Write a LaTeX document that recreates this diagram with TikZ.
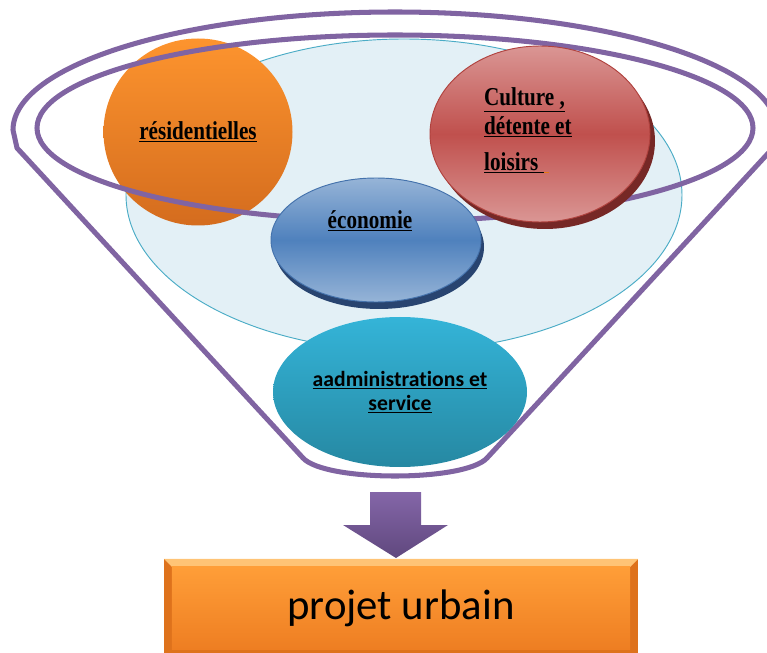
\documentclass[tikz,border=0pt]{standalone}
\usepackage{fontspec}
\setmainfont[Ligatures=NoCommon]{Carlito}
\newfontfamily\labelfont[FakeStretch=0.82]{Liberation Serif}
\usepackage{tikz}
\usetikzlibrary{shapes.geometric}
\usetikzlibrary{calc}
\definecolor{funnel}{RGB}{128,100,162}
\definecolor{lightbg}{RGB}{227,240,246}
\definecolor{lightedge}{RGB}{75,172,198}
\definecolor{orangetop}{RGB}{253,148,46}
\definecolor{orangebot}{RGB}{212,108,30}
\definecolor{redlight}{RGB}{218,150,148}
\definecolor{redmid}{RGB}{192,80,77}
\definecolor{rededge}{RGB}{176,66,62}
\definecolor{redshadow}{RGB}{118,40,38}
\definecolor{bluelight}{RGB}{150,180,215}
\definecolor{bluemid}{RGB}{79,129,189}
\definecolor{blueedge}{RGB}{68,114,172}
\definecolor{blueshadow}{RGB}{40,68,112}
\definecolor{tealtop}{RGB}{52,180,216}
\definecolor{tealbot}{RGB}{38,136,162}
\definecolor{arrowtop}{RGB}{132,102,168}
\definecolor{arrowbot}{RGB}{96,72,126}
\definecolor{boxedge}{RGB}{222,114,28}
\definecolor{boxlight}{RGB}{255,196,118}
\definecolor{boxtop}{RGB}{255,158,56}
\definecolor{boxbot}{RGB}{238,126,34}
\definecolor{ulorange}{RGB}{230,120,20}
\tikzset{
  funnelline/.style={draw=funnel,line width=4.3pt,line join=round},
  bubble/.style={ellipse,inner sep=0pt},
  labeltext/.style={font=\labelfont\bfseries\fontsize{22}{25}\selectfont},
}

\begin{document}
\begin{tikzpicture}[x=0.3mm,y=-0.3mm]
\useasboundingbox (0,0) rectangle (767,653);
\clip (0,0) rectangle (767,653);
%background ellipse
\node (fond) at (404,195) [bubble,fill=lightbg,draw=lightedge,line width=0.8pt,minimum width=556*0.3mm,minimum height=312*0.3mm] {};
%residential bubble
\node (res) at (198,132) [bubble,top color=orangetop,bottom color=orangebot,minimum width=189*0.3mm,minimum height=187*0.3mm,labeltext] {\underline{résidentielles}};

%funnel and inner ring
\draw [funnelline] (395,128) ellipse [x radius=358,y radius=93];
\draw [funnelline] (303,458) -- (17,148) -- (13,130) arc [start angle=180,end angle=360,x radius=382,y radius=118] -- (773,148) -- (487,458) .. controls (465,482) and (325,482) .. (303,458) -- cycle;

%culture bubble
\fill [redshadow] (545,141) ellipse [x radius=110,y radius=88];
\node (cult) at (540,134) [bubble,draw=rededge,line width=0.8pt,top color=redlight,bottom color=redlight,middle color=redmid,minimum width=220*0.3mm,minimum height=176*0.3mm] {};
\node (culttxt) at (484,87) [anchor=north west,align=left,inner sep=0pt,labeltext] {\underline{Culture ,}\\ \underline{détente et}\\[6pt] \underline{loisirs\ }\textcolor{ulorange}{\underline{\hspace{5pt}}}};

%economy bubble
\fill [blueshadow] (379,247) ellipse [x radius=105,y radius=62];
\node (eco) at (376,240) [bubble,draw=blueedge,line width=0.8pt,top color=bluelight,bottom color=bluelight,middle color=bluemid,minimum width=210*0.3mm,minimum height=124*0.3mm] {};
\node (ecotxt) at (370,221) [labeltext] {\underline{économie}};

%administration bubble
\node (admin) at (400,392) [bubble,top color=tealtop,bottom color=tealbot,minimum width=254*0.3mm,minimum height=150*0.3mm,align=center,font=\bfseries\fontsize{18.5}{21}\selectfont] {\underline{aadministrations et}\\\underline{service}};

%arrow down
\shade [top color=arrowtop,bottom color=arrowbot] (370,492) -- (421,492) -- (421,525) -- (448,525) -- (396,558) -- (343,525) -- (370,525) -- cycle;

%result box
\node (projet) at (401,608) [rectangle,fill=boxedge,minimum width=474*0.3mm,minimum height=98*0.3mm,inner sep=0pt] {};
\fill [boxlight] (projet.north west) -- (projet.north east) -- ++(-8,8) -- ($(projet.north west)+(8,8)$) -- cycle;
\shade [top color=boxtop,bottom color=boxbot] ($(projet.north west)+(8,8)$) rectangle ($(projet.south east)+(-8,-8)$);
\node (titre) at (projet) [font=\fontsize{36.5}{42}\selectfont] {projet urbain};
\end{tikzpicture}
\end{document}
